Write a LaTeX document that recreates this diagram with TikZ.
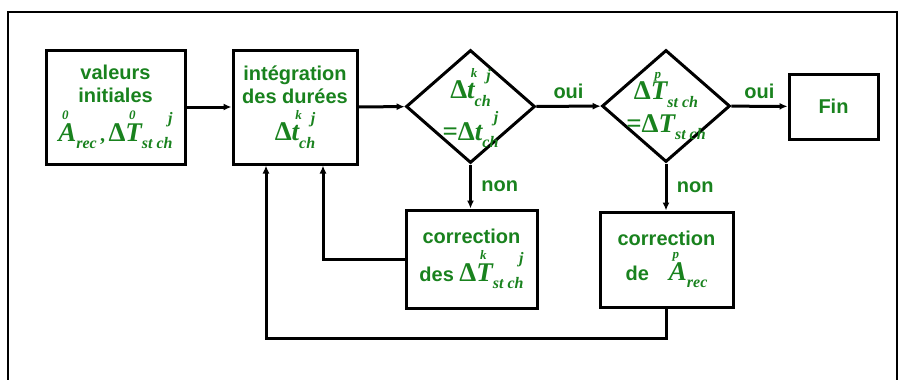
\documentclass[tikz,border=0pt]{standalone}
\usepackage{fontspec}
\setmainfont{Liberation Sans}
\newfontfamily\tms{Liberation Serif}
\usetikzlibrary{arrows.meta,shapes.geometric}
\definecolor{tgreen}{RGB}{25,130,30}
\newcommand\mq[4]{{\tms\bfseries\itshape\fontsize{27}{27}\selectfont
 \rlap{\hspace{0.14em}\raisebox{0.8em}{\fontsize{13}{13}\selectfont #1}}%
 #2%
 \raisebox{-0.28em}{\fontsize{16}{16}\selectfont #3}%
 \llap{\raisebox{0.66em}{\fontsize{16}{16}\selectfont #4}}}}
\newcommand\dl{{\tms\bfseries\fontsize{27}{27}\selectfont Δ}}
\newcommand\eqs{{\tms\bfseries\fontsize{27}{27}\selectfont =}}
\begin{document}
\begin{tikzpicture}[x=1pt,y=-1pt,
  box/.style={draw=black,line width=3pt,rectangle,inner sep=0pt},
  dia/.style={draw=black,line width=3pt,diamond,inner sep=0pt},
  lbl/.style={text=tgreen,font=\fontsize{20}{23}\selectfont\bfseries,align=center},
  conn/.style={line width=3pt,-{Latex[length=8pt,width=7pt]}},
  frame/.style={line width=2pt}]
\useasboundingbox (0,0) rectangle (902,380);
\draw[frame] (8,381) -- (8,12) -- (897,12) -- (897,381);

\node[box,lbl,minimum width=139pt,minimum height=114pt] (b1) at (115.5,107)
  {valeurs\\initiales\\[7pt]\mq{0}{A}{rec}{}\,{\tms\bfseries ,}\,\dl\mq{0}{T}{st ch}{j}};
\node[box,lbl,minimum width=124pt,minimum height=114pt] (b2) at (295,107)
  {intégration\\des durées\\[6pt]\dl\mq{k}{t}{ch}{j}};
\node[dia,minimum width=129pt,minimum height=113pt] (d1) at (470.5,106.5) {};
\node[lbl] (t1) at (470.5,108) {\dl\mq{k}{t}{ch}{j}\\[4pt]\eqs\dl\mq{}{t}{ch}{j}};
\node[dia,minimum width=128pt,minimum height=112pt] (d2) at (666,106) {};
\node[lbl] (t2) at (666,106) {\dl\mq{p}{T}{st ch}{}\\[2pt]\eqs\dl\mq{}{T}{st ch}{}};
\node[box,lbl,minimum width=89pt,minimum height=65pt] (fin) at (833.5,106.5) {Fin};
\node[box,lbl,minimum width=131pt,minimum height=98pt] (b3) at (471.5,259)
  {correction\\[6pt]des \dl\mq{k}{T}{st ch}{j}};
\node[box,lbl,minimum width=133pt,minimum height=95pt] (b4) at (666.5,259.5)
  {correction\\[6pt]de\quad\mq{p}{A}{rec}{}};

\coordinate (c3) at (323,260);
\coordinate (c4) at (266,338);

\draw[conn] (b1) -- (b2);
\draw[conn] (b2) -- (d1);
\draw[conn] (d1) -- node[lbl,above=3pt] (oui1) {oui} (d2);
\draw[conn] (d2) -- node[lbl,above=3pt] (oui2) {oui} (fin);
\draw[conn] (d1.south) -- node[lbl,right=6pt] (non1) {non} (d1.south |- b3.north);
\draw[conn] (d2.south) -- node[lbl,right=6pt] (non2) {non} (d2.south |- b4.north);
\draw[conn] (b3.west) -- (b3.west -| c3) -- (c3 |- b2.south);
\draw[conn] (b4.south) |- (c4) -- (c4 |- b2.south);
\end{tikzpicture}
\end{document}
